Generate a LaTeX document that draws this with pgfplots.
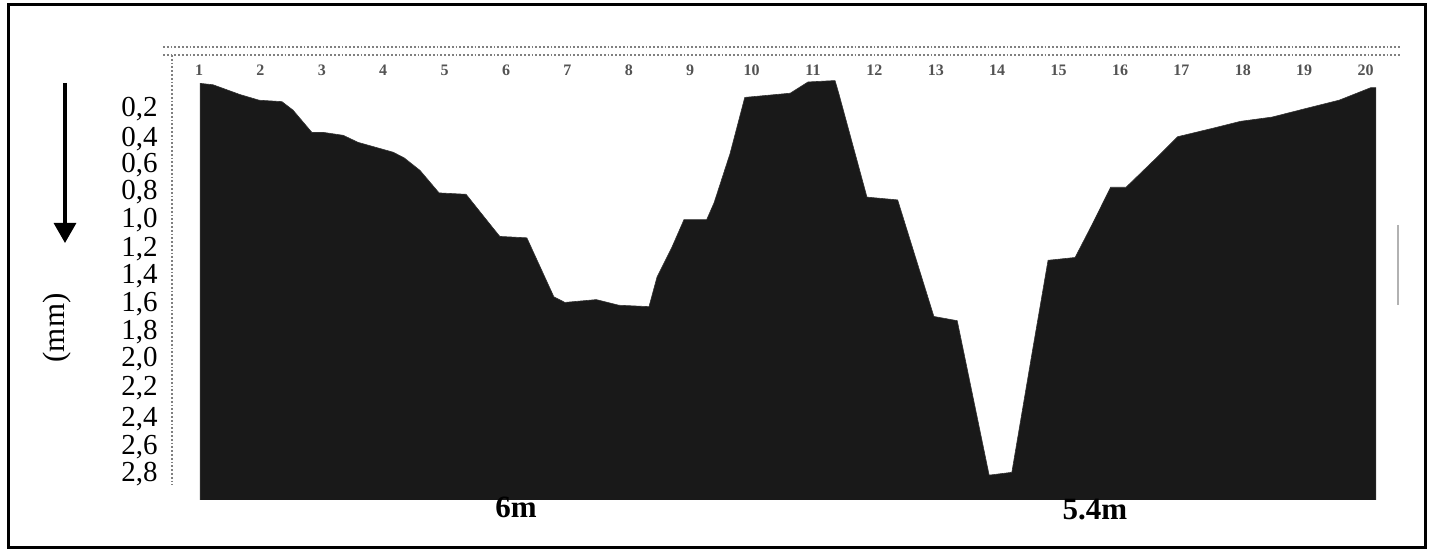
\documentclass[border=0pt]{standalone}
\usepackage{fontspec}
\setmainfont{Liberation Serif}
\usepackage{pgfplots}
\pgfplotsset{compat=1.18}
\usetikzlibrary{arrows.meta}

\pgfplotstableread{
x      d
0.02   2.977
0.02   0.01
0.23   0.02
0.67   0.09
0.98   0.13
1.35   0.14
1.53   0.20
1.84   0.36
2.04   0.36
2.35   0.38
2.59   0.43
3.16   0.50
3.34   0.54
3.60   0.63
3.91   0.79
4.35   0.80
4.77   1.03
4.90   1.10
5.34   1.11
5.78   1.53
5.96   1.57
6.47   1.55
6.84   1.59
7.33   1.60
7.46   1.39
7.70   1.18
7.90   0.98
8.27   0.98
8.39   0.86
8.65   0.51
8.89   0.11
9.63   0.08
9.92   0.00
10.36  -0.01
10.42  0.08
10.88  0.82
11.38  0.84
11.97  1.67
12.35  1.70
12.44  1.89
12.87  2.80
13.24  2.78
13.57  1.93
13.83  1.27
14.27  1.25
14.53  1.03
14.85  0.75
15.10  0.75
15.62  0.53
15.94  0.39
16.51  0.33
16.97  0.28
17.48  0.25
18.11  0.18
18.57  0.13
19.09  0.04
19.17  0.04
19.17  2.977
}\profile

\begin{document}
\begin{tikzpicture}[x=0.5pt,y=0.5pt]
\path (0,0) rectangle (1432,550);
% top dotted band and left dotted axis line
\draw[gray, densely dotted, line width=0.9pt] (163,503) -- (1400,503);
\draw[gray, densely dotted, line width=0.9pt] (163,495) -- (1400,495);
\draw[gray, densely dotted, line width=0.9pt] (172,495) -- (172,65);
\draw[gray!60, line width=0.6pt] (1398,325) -- (1398,245);
\begin{axis}[
  at={(86pt,25pt)}, anchor=south west,
  width=613pt, height=226pt, scale only axis,
  xmin=-0.44, xmax=19.53,
  ymin=-0.242, ymax=2.977, y dir=reverse,
  axis line style={draw=none},
  xtick=\empty,
  ytick={0.20,0.41,0.60,0.79,0.99,1.20,1.39,1.59,1.79,1.98,2.19,2.41,2.61,2.80},
  yticklabels={{0,2},{0,4},{0,6},{0,8},{1,0},{1,2},{1,4},{1,6},{1,8},{2,0},{2,2},{2,4},{2,6},{2,8}},
  major tick length=0pt,
  yticklabel style={font=\fontsize{14.5}{14.5}\selectfont, anchor=east, inner sep=0pt,
    text height=8.5pt, text depth=2pt, xshift=-7pt},
]
\addplot[fill=black!90, draw=black!80, line width=0.3pt] table[x=x, y=d] {\profile};
\end{axis}
% top station labels
\foreach \k in {1,...,20}
  \node[text=gray!65!black, font=\fontsize{8}{8}\selectfont\bfseries] at ({199+61.4*(\k-1)}, 480) {\k};
% depth arrow and unit
\draw[line width=1.6pt, -{Triangle[width=11pt,length=10pt]}] (65,467) -- (65,307);
\node[rotate=90, font=\fontsize{15.5}{15.5}\selectfont] at (57,222) {(mm)};
% distance labels
\node[font=\fontsize{15.5}{15.5}\selectfont\bfseries] at (516,43) {6m};
\node[font=\fontsize{15.5}{15.5}\selectfont\bfseries] at (1095,40) {5.4m};
% outer frame
\draw[line width=1.5pt] (8,2) rectangle (1425,545);
\end{tikzpicture}
\end{document}
